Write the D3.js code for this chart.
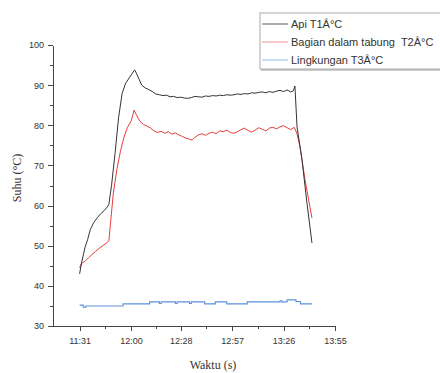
<!DOCTYPE html>
<meta charset="utf-8">
<head>
<style>
  body { margin: 0; background: #fff; }
  .tick text { font: 9px "Liberation Sans", Arial, sans-serif; fill: #333; }
  .axis path, .axis line { stroke: #444; shape-rendering: crispEdges; }
  .title { font-family: "Liberation Serif", "Times New Roman", serif; font-size: 12px; fill: #333; }
  .leg { font: 11px "Liberation Sans", Arial, sans-serif; fill: #333; white-space: pre; }
</style>
</head>
<body>
<script src="https://cdn.jsdelivr.net/npm/d3@7"></script>
<script>
// time in minutes since midnight (691 = 11:31)
var apiTime = [691, 692, 693, 694, 695.5, 697, 699, 701, 703, 705, 706.5, 707.5, 709, 711, 713, 715, 717, 719, 720.5, 722, 723, 724.5, 726, 728, 730, 732, 734, 736, 738, 740, 742, 744, 746, 748, 750, 752, 754, 756, 758, 760, 762, 764, 766, 768, 770, 772, 774, 776, 778, 780, 782, 784, 786, 788, 790, 792, 794, 796, 798, 800, 802, 804, 806, 808, 810, 811.5, 812.4, 813.6, 816.4, 819.2, 822];
var apiVal = [43.0, 45.5, 47.5, 49.5, 51.5, 54, 55.8, 57, 58, 58.8, 59.6, 60.3, 65, 73, 82, 88, 90.5, 91.8, 92.8, 93.8, 93, 91.5, 90, 89.3, 88.9, 88.4, 87.8, 87.6, 87.4, 87.5, 87.1, 87.2, 86.9, 87.0, 86.8, 86.7, 86.9, 87.2, 87.1, 87.0, 87.3, 87.2, 87.4, 87.3, 87.5, 87.4, 87.6, 87.5, 87.6, 87.8, 87.7, 87.9, 87.8, 88.1, 88.0, 88.2, 88.3, 88.1, 88.4, 88.2, 88.5, 88.7, 88.4, 88.8, 88.3, 88.6, 89.8, 79.6, 71.4, 60.6, 50.7];

var tabungTime = [691, 692, 693, 694.5, 696, 698, 700, 702, 704, 706, 707.5, 708.5, 710, 712, 714, 716, 718, 720, 721, 721.7, 723, 725, 727, 729, 731, 733, 735, 737, 739, 741, 743, 745, 747, 749, 751, 752.5, 754.4, 756, 758, 760, 762, 764, 766, 768, 770, 772, 774, 776, 778, 780, 782, 784, 786, 788, 790, 792, 794, 796, 798, 800, 802, 804, 806, 808, 810, 812, 813.5, 815.3, 818.1, 820.9, 822];
var tabungVal = [44.5, 45.6, 45.8, 46.3, 47, 47.8, 48.6, 49.3, 50, 50.6, 51.2, 56, 63, 69, 73.5, 77, 79.5, 81, 82.5, 83.8, 82.6, 81, 80.2, 79.8, 79.3, 78.6, 78.2, 78.5, 78.0, 78.4, 77.8, 78.1, 77.6, 77.2, 76.8, 76.6, 76.3, 77.0, 77.6, 77.9, 77.5, 78.0, 78.3, 77.9, 78.6, 78.4, 78.8, 78.2, 78.0, 78.4, 78.9, 79.3, 78.7, 78.3, 78.8, 79.4, 79.0, 78.6, 79.3, 79.5, 79.1, 79.6, 79.9, 79.4, 78.9, 79.5, 78.0, 74.6, 66.4, 59.6, 56.9];

var lingTime = [691, 693, 694.5, 715.5, 730.5, 736, 737, 745, 746, 753, 754, 761.5, 767.5, 774, 785.5, 804, 805, 808, 813, 815.5, 822];
var lingVal = [35.2, 34.7, 35.0, 35.5, 36.0, 35.6, 36.0, 35.6, 36.0, 35.6, 36.0, 35.5, 36.0, 35.5, 36.0, 36.3, 36.0, 36.5, 36.1, 35.5, 35.5];

var tickLabels = ["11:31", "12:00", "12:28", "12:57", "13:26", "13:55"];
var yTicks = [30, 40, 50, 60, 70, 80, 90, 100];
var seriesNames = ["Api T1Â°C", "Bagian dalam tabung  T2Â°C", "Lingkungan T3Â°C"];

var width = 440, height = 373;
var svg = d3.select("body").append("svg")
    .attr("width", width)
    .attr("height", height);

function toMin(s) {
  var p = s.split(":");
  return +p[0] * 60 + +p[1];
}
var tickMins = tickLabels.map(toMin);

var x = d3.scaleLinear().domain([676, 835]).range([53, 335]);
var y = d3.scaleLinear().domain([30, 100]).range([326, 45]);

// minor ticks
var xMinor = [];
for (var i = 0; i < tickMins.length - 1; i++) xMinor.push((tickMins[i] + tickMins[i + 1]) / 2);
var yMinor = [];
for (var j = 0; j < yTicks.length - 1; j++) yMinor.push(yTicks[j] + 5);

svg.append("g")
    .attr("class", "axis")
    .attr("transform", "translate(0,326)")
    .call(d3.axisBottom(x).tickValues(xMinor).tickSize(3).tickFormat(""))
    .select(".domain").remove();

svg.append("g")
    .attr("class", "axis")
    .attr("transform", "translate(53,0)")
    .call(d3.axisLeft(y).tickValues(yMinor).tickSize(3).tickFormat(""))
    .select(".domain").remove();

svg.append("g")
    .attr("class", "axis")
    .attr("transform", "translate(0,326)")
    .call(d3.axisBottom(x).tickValues(tickMins).tickSize(5).tickSizeOuter(0)
      .tickFormat(function(d, i) { return tickLabels[i]; }))
    .selectAll("text").attr("dy", "1.1em");

svg.append("g")
    .attr("class", "axis")
    .attr("transform", "translate(53,0)")
    .call(d3.axisLeft(y).tickValues(yTicks).tickSize(5).tickSizeOuter(0))
    .selectAll("text").attr("dx", "-1px");

svg.selectAll(".axis path.domain").attr("stroke-width", 1.5);

svg.append("text")
    .attr("class", "title")
    .attr("text-anchor", "middle")
    .attr("x", 213)
    .attr("y", 369)
    .text("Waktu (s)");

svg.append("text")
    .attr("class", "title")
    .attr("text-anchor", "middle")
    .attr("transform", "translate(21,178) rotate(-90)")
    .text("Suhu (°C)");

var line = d3.line()
    .x(function(d) { return x(d[0]); })
    .y(function(d) { return y(d[1]); });

var stepLine = d3.line()
    .curve(d3.curveStepAfter)
    .x(function(d) { return x(d[0]); })
    .y(function(d) { return y(d[1]); });

svg.append("path")
    .datum(d3.zip(lingTime, lingVal))
    .attr("fill", "none")
    .attr("stroke", "#5d90dc")
    .attr("stroke-width", 1.1)
    .attr("d", stepLine);

svg.append("path")
    .datum(d3.zip(tabungTime, tabungVal))
    .attr("fill", "none")
    .attr("stroke", "#ea3b3b")
    .attr("stroke-width", 1)
    .attr("d", line);

svg.append("path")
    .datum(d3.zip(apiTime, apiVal))
    .attr("fill", "none")
    .attr("stroke", "#333")
    .attr("stroke-width", 1)
    .attr("d", line);

// legend
var leg = svg.append("g");
leg.append("rect")
    .attr("x", 261).attr("y", 15)
    .attr("width", 190).attr("height", 56)
    .attr("fill", "#ccc");
leg.append("rect")
    .attr("x", 260).attr("y", 13)
    .attr("width", 190).attr("height", 56)
    .attr("fill", "#fff")
    .attr("stroke", "#aaa");

var legColors = ["#777", "#f5a3a3", "#a6c4ee"];
seriesNames.forEach(function(n, k) {
  var ly = 24 + k * 18;
  leg.append("line")
      .attr("x1", 262).attr("x2", 288)
      .attr("y1", ly).attr("y2", ly)
      .attr("stroke", legColors[k])
      .attr("stroke-width", 1.2);
  leg.append("text")
      .attr("class", "leg")
      .attr("x", 291)
      .attr("y", ly + 4)
      .text(n);
});
</script>
</body>
